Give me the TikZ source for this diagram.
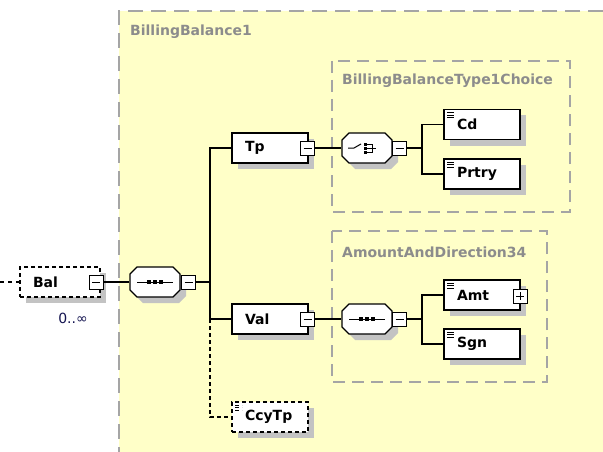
\documentclass[tikz,border=0pt]{standalone}
\usepackage{fontspec}
\setmainfont{DejaVu Sans}
\usetikzlibrary{shapes.misc,shadows}
\definecolor{spyyellow}{RGB}{255,255,200}
\definecolor{grpgray}{RGB}{165,165,165}
\definecolor{titlegray}{RGB}{140,140,140}
\definecolor{shadowgray}{RGB}{195,195,195}
\definecolor{occnavy}{RGB}{20,20,80}

\begin{document}
\begin{tikzpicture}[x=1pt,y=-1pt,
	conn/.style={line width=1.1pt},
	grpline/.style={draw=grpgray,line width=1.3pt,dash pattern=on 12pt off 7pt},
	grptitle/.style={inner sep=0pt,anchor=west,text=titlegray,font=\fontsize{14}{16}\selectfont\bfseries},
	elem/.style={draw,fill=white,line width=1.3pt,font=\fontsize{14}{16}\selectfont\bfseries,
		text width=50pt,inner xsep=13pt,inner ysep=0pt,align=left,minimum height=30pt,
		drop shadow={shadow xshift=6pt,shadow yshift=-6pt,fill=shadowgray,opacity=1}},
	simple/.style={elem,path picture={
		\foreach \d in {3,5.5,8}
			\draw[black,line width=0.9pt] ([xshift=3pt,yshift=-\d pt]path picture bounding box.north west) -- ++(7pt,0pt);}},
	optional/.style={dash pattern=on 4pt off 3pt},
	compositor/.style={chamfered rectangle,chamfered rectangle xsep=3.5pt,chamfered rectangle ysep=3.5pt,
		draw,fill=white,line width=1.3pt,inner xsep=21.5pt,inner ysep=11.5pt,
		drop shadow={shadow xshift=6pt,shadow yshift=-6pt,fill=shadowgray,opacity=1}},
	sequence/.style={compositor,path picture={
		\begin{scope}[shift={(path picture bounding box.center)}]
			\draw[black,line width=1pt] (-18pt,0pt) -- (18pt,0pt);
			\foreach \d in {-6,0,6}
				\fill[black] ([xshift=\d pt]-2pt,-2pt) rectangle ++(4pt,4pt);
		\end{scope}}},
	choice/.style={compositor,path picture={
		\begin{scope}[shift={(path picture bounding box.center)},black,line width=1pt]
			\draw (-19pt,0pt) -- (-13pt,0pt) -- (-6pt,4pt);
			\foreach \d in {-4,0,4}
				\fill (-3.5pt,\d pt-1.5pt) rectangle ++(3pt,3pt);
			\draw (0pt,4pt) -- (5pt,4pt) -- (5pt,-4pt) -- (0pt,-4pt);
			\draw (0pt,0pt) -- (9pt,0pt);
		\end{scope}}},
	minus/.style={draw,fill=white,line width=1pt,minimum size=14pt,inner sep=0pt,
		path picture={\draw[black,line width=1pt] ([xshift=3pt]path picture bounding box.west) -- ([xshift=-3pt]path picture bounding box.east);}},
	plus/.style={minus,path picture={
		\draw[black,line width=1pt] ([xshift=3pt]path picture bounding box.west) -- ([xshift=-3pt]path picture bounding box.east);
		\draw[black,line width=1pt] ([yshift=-3pt]path picture bounding box.north) -- ([yshift=3pt]path picture bounding box.south);}}]
	\useasboundingbox (0,0) rectangle (603,452);
	% groups
	\fill[spyyellow] (119,11) rectangle (603,452);
	\draw[grpline,dash pattern=on 15pt off 8pt] (603,11) -- (119,11) -- (119,452);
	\draw[grpline] (332,61) rectangle (570,212);
	\draw[grpline] (332,231) rectangle (547,382);
	\node[grptitle] (t1) at (130,32) {BillingBalance1};
	\node[grptitle] (t2) at (342,81) {BillingBalanceType1Choice};
	\node[grptitle] (t3) at (342,252) {AmountAndDirection34};

	% nodes
	\coordinate (in) at (0,282);
	\node[elem,optional,text width=54pt] (bal) at (60,282) {Bal};
	\node[minus] (balm) at (96,282) {};
	\node[inner sep=0pt,text=occnavy,font=\fontsize{14}{16}\selectfont] (occ) at (73,318) {0..∞};
	\node[sequence] (seq1) at (155,282) {};
	\node[minus] (seq1m) at (188.5,282) {};
	\coordinate (bus) at (210,282);

	\node[elem] (tp) at (270,148) {Tp};
	\node[minus] (tpm) at (307.5,148) {};
	\node[choice] (cho) at (367,148) {};
	\node[minus] (chom) at (399.5,148) {};
	\coordinate (bus2) at (422,148);
	\node[simple] (cd) at (482,124.5) {Cd};
	\node[simple] (prtry) at (482,174) {Prtry};

	\node[elem] (val) at (270,319) {Val};
	\node[minus] (valm) at (307.5,319) {};
	\node[sequence] (seq2) at (367,319) {};
	\node[minus] (seq2m) at (399.5,319) {};
	\node[simple] (amt) at (482,295) {Amt};
	\node[plus] (amtp) at (520,296) {};
	\node[simple] (sgn) at (482,344) {Sgn};

	\node[simple,optional] (ccy) at (270,417) {CcyTp};

	% connectors
	\draw[conn,dash pattern=on 4pt off 4pt] (in) -- (bal);
	\draw[conn] (balm) -- (seq1);
	\draw[conn] (seq1m) -- (bus);
	\draw[conn] (tp.west) -- (tp -| bus) -- (val -| bus) -- (val.west);
	\draw[conn,dash pattern=on 4pt off 3pt] (val -| bus) -- (ccy -| bus) -- (ccy.west);
	\draw[conn] (tpm) -- (cho);
	\draw[conn] (chom) -- (bus2);
	\draw[conn] (cd.west) -- (cd -| bus2) -- (prtry -| bus2) -- (prtry.west);
	\draw[conn] (valm) -- (seq2);
	\draw[conn] (seq2m) -- (seq2m -| bus2);
	\draw[conn] (amt.west) -- (amt -| bus2) -- (sgn -| bus2) -- (sgn.west);
\end{tikzpicture}
\end{document}
